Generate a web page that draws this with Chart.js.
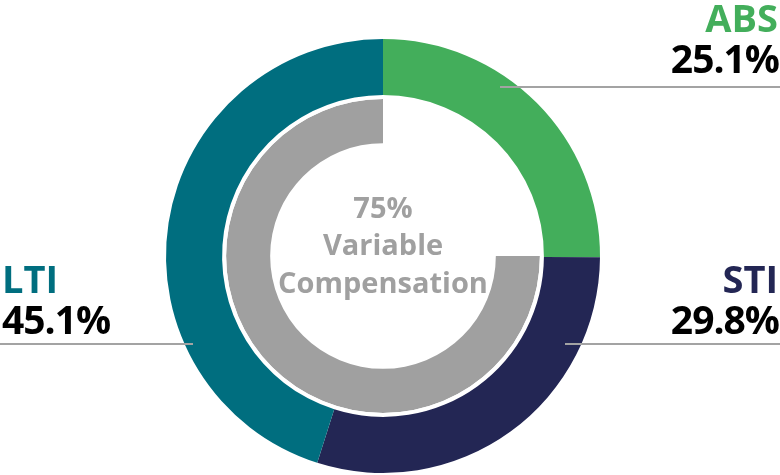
<!DOCTYPE html>
<html lang="en">
<head>
    <meta charset="UTF-8">
    <title>Variable Compensation</title>
    <script src="https://cdn.jsdelivr.net/npm/chart.js"></script>
    <style>
        html, body { margin: 0; padding: 0; background: #fff; }
        #wrap { width: 780px; height: 475px; position: relative; }
    </style>
</head>
<body>
    <div id="wrap"><canvas id="comp-chart"></canvas></div>
    <script>
        // data
        var categories = ['ABS', 'STI', 'LTI'];
        var shares = [25.1, 29.8, 45.1];
        var colors = ['#43ae5b', '#232654', '#006e7f'];
        var variableShare = 75;
        var centerLines = ['75%', 'Variable', 'Compensation'];

        var FONT = '"Open Sans", "DejaVu Sans", sans-serif';

        // label placement: name baseline, alignment, leader line
        var labelPos = [
            { x: 778, y: 32, align: 'right', ly: 87, lx1: 500, lx2: 780 },
            { x: 778, y: 293, align: 'right', ly: 344, lx1: 565, lx2: 780 },
            { x: 2, y: 293, align: 'left', ly: 344, lx1: 0, lx2: 193 }
        ];

        var textPlugin = {
            id: 'textPlugin',
            afterDraw: function(chart) {
                var ctx = chart.ctx;
                ctx.save();
                // leader lines
                ctx.strokeStyle = '#a3a3a3';
                ctx.lineWidth = 2;
                labelPos.forEach(function(p) {
                    ctx.beginPath();
                    ctx.moveTo(p.lx1, p.ly);
                    ctx.lineTo(p.lx2, p.ly);
                    ctx.stroke();
                });
                // labels
                ctx.textBaseline = 'alphabetic';
                labelPos.forEach(function(p, i) {
                    ctx.textAlign = p.align;
                    ctx.letterSpacing = '0px';
                    ctx.fillStyle = colors[i];
                    ctx.font = 'bold 38px ' + FONT;
                    ctx.fillText(categories[i], p.x, p.y);
                    ctx.fillStyle = '#000';
                    ctx.font = 'bold 39px ' + FONT;
                    ctx.letterSpacing = '-1px';
                    var vx = p.align === 'right' ? p.x + 1 : p.x;
                    ctx.fillText(shares[i].toFixed(1) + '%', vx, p.y + 41);
                });
                // center text
                ctx.letterSpacing = '0px';
                var cx = (chart.chartArea.left + chart.chartArea.right) / 2;
                var cy = (chart.chartArea.top + chart.chartArea.bottom) / 2;
                ctx.textAlign = 'center';
                ctx.fillStyle = '#a0a0a0';
                ctx.font = 'bold 29px ' + FONT;
                ctx.fillText(centerLines[0], cx, cy - 38);
                ctx.fillText(centerLines[1], cx, cy - 1);
                ctx.fillText(centerLines[2], cx, cy + 37);
                ctx.restore();
            }
        };

        var ctx = document.getElementById('comp-chart').getContext('2d');
        var chart = new Chart(ctx, {
            type: 'doughnut',
            data: {
                labels: categories,
                datasets: [{
                    data: shares,
                    backgroundColor: colors,
                    borderWidth: 0,
                    weight: 56
                }, {
                    data: [1],
                    backgroundColor: ['#ffffff'],
                    borderWidth: 0,
                    weight: 4
                }, {
                    data: [100 - variableShare, variableShare],
                    backgroundColor: ['rgba(0,0,0,0)', '#a0a0a0'],
                    borderWidth: 0,
                    weight: 44
                }]
            },
            options: {
                responsive: true,
                maintainAspectRatio: false,
                animation: false,
                radius: 217,
                cutout: '52%',
                layout: { padding: { left: 0, right: 14, top: 37, bottom: 0 } },
                plugins: {
                    legend: { display: false },
                    tooltip: { enabled: false }
                },
                events: []
            },
            plugins: [textPlugin]
        });
    </script>
</body>
</html>
